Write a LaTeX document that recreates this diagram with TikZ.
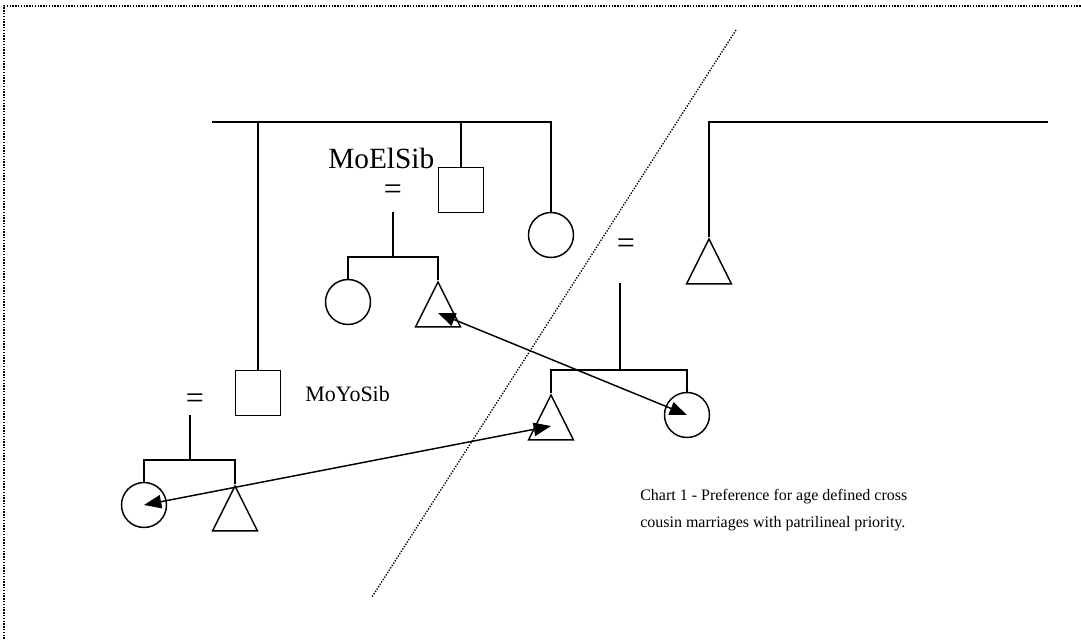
\documentclass[tikz,border=0pt]{standalone}
\usepackage{fontspec}
\setmainfont{Liberation Serif}
\usetikzlibrary{shapes.geometric,arrows.meta}
\tikzset{
  kinline/.style={line width=1.1pt},
  male/.style={draw, line width=1.1pt, rectangle, minimum size=33.75pt, inner sep=0pt},
  female/.style={draw, line width=1.1pt, circle, minimum size=33.75pt, inner sep=0pt},
  child/.style={draw, line width=1.1pt, isosceles triangle, isosceles triangle stretches,
    shape border rotate=90, minimum width=33.75pt, minimum height=33.75pt, inner sep=0pt, anchor=apex},
  marriage/.style={inner sep=0pt, font=\fontsize{24}{26}\selectfont},
  kinlabel/.style={inner sep=0pt, anchor=base west, font=\fontsize{16.5}{19}\selectfont},
  notelabel/.style={inner sep=0pt, anchor=base west, font=\fontsize{12}{14}\selectfont},
  link/.style={line width=1.1pt, {Triangle[length=13pt,width=10pt]}-{Triangle[length=13pt,width=10pt]}},
  divide/.style={line width=1pt, dash pattern=on 1pt off 1.1pt},
}
\begin{document}
\begin{tikzpicture}[x=0.75pt, y=-0.75pt]
\useasboundingbox (0,0) rectangle (1081,639);

\draw[divide] (4,650) -- (4,6) -- (1090,6);
\draw[divide] (736,30) -- (372,597);

\node[male] (sqA) at (258,393) {};
\node[male] (sqB) at (461,190) {};
\node[female] (ciA) at (551,235) {};
\node[child] (trR) at (709,237) {};

\node[female] (ciB) at (348,302) {};
\node[child] (trB) at (438,280) {};

\node[child] (trM) at (551,393) {};
\node[female] (ciM) at (687,415) {};

\node[female] (ciL) at (144,505) {};
\node[child] (trL) at (235,484) {};

\node[marriage] (eqB) at (393,192) {=};
\node[marriage] (eqM) at (626,246) {=};
\node[marriage] (eqL) at (195,401) {=};

\node[kinlabel, font=\fontsize{22}{24}\selectfont] (elder) at (328,168) {MoElSib};
\node[kinlabel] (younger) at (305,401) {MoYoSib};
\node[notelabel] (chartA) at (640,500) {Chart 1 - Preference for age defined cross};
\node[notelabel] (chartB) at (640,527) {cousin marriages with patrilineal priority.};

\coordinate (sibL) at (212,122);
\coordinate (sibR) at (1048,122);
\draw[kinline] (sibL) -| (ciA.north);
\draw[kinline] (sqA.north) -- (sqA.north |- sibL);
\draw[kinline] (sqB.north) -- (sqB.north |- sibL);
\draw[kinline] (sibR) -| (trR.apex);

\coordinate (dscB) at (393,212);
\coordinate (dscM) at (620,283);
\coordinate (dscL) at (190,415);
\draw[kinline] (dscB) -- ++(0,45) coordinate (barB);
\draw[kinline] (ciB.north) |- (barB) -| (trB.apex);
\draw[kinline] (dscM) -- ++(0,87) coordinate (barM);
\draw[kinline] (trM.apex) |- (barM) -| (ciM.north);
\draw[kinline] (dscL) -- ++(0,45) coordinate (barL);
\draw[kinline] (ciL.north) |- (barL) -| (trL.apex);

\draw[link] (trB.center) -- (ciM.center);
\draw[link] (ciL.center) -- (trM.center);
\end{tikzpicture}
\end{document}
